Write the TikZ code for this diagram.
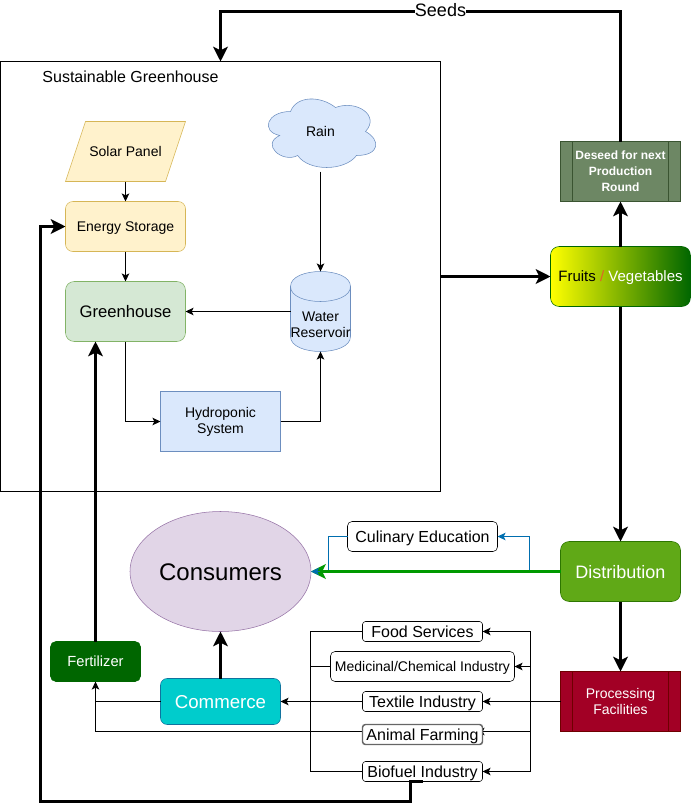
\documentclass[tikz,border=0pt]{standalone}
\usepackage{fontspec}
\setmainfont{Liberation Sans}
\usetikzlibrary{arrows.meta,backgrounds,shapes.geometric}
\definecolor{solarF}{HTML}{FFF2CC}\definecolor{solarD}{HTML}{D6B656}
\definecolor{greenF}{HTML}{D5E8D4}\definecolor{greenD}{HTML}{82B366}
\definecolor{blueF}{HTML}{DAE8FC}\definecolor{blueD}{HTML}{6C8EBF}
\definecolor{purpF}{HTML}{E1D5E7}\definecolor{purpD}{HTML}{9673A6}
\definecolor{distF}{HTML}{60A917}\definecolor{distD}{HTML}{2D7600}
\definecolor{procF}{HTML}{A20025}\definecolor{procD}{HTML}{6F0000}
\definecolor{seedF}{HTML}{6D8764}\definecolor{seedD}{HTML}{3A5431}
\definecolor{darkG}{HTML}{006600}
\definecolor{commF}{HTML}{00CCCC}\definecolor{commD}{HTML}{10739E}
\definecolor{eduB}{HTML}{006EAF}\definecolor{greenL}{HTML}{009900}
\definecolor{slash}{HTML}{E0602A}
\newcommand\ftw{\fontsize{9}{11.25}\selectfont}
\newcommand\ffo{\fontsize{10.5}{13}\selectfont}
\newcommand\fsi{\fontsize{12}{14}\selectfont}
\newcommand\fei{\fontsize{13.5}{16}\selectfont}
\newcommand\lft{\rule[-.2em]{0pt}{1.14em}}
\tikzset{
  px/.style 2 args={minimum width=#1*0.75pt,minimum height=#2*0.75pt,inner sep=0pt,outer sep=0pt},
  line width=0.75pt,
  thin arrow/.style={-{Stealth[length=6pt,width=5.6pt,inset=1.4pt]},line width=0.75pt},
  thick arrow/.style={-{Stealth[length=11pt,width=11pt,inset=2.6pt]},line width=2.25pt},
  plain/.style={line width=0.75pt},
  round3/.style={draw=black,fill=white,rounded corners=2.2pt},
  round5/.style={draw=black,fill=white,rounded corners=3.4pt},
}
\begin{document}
\begin{tikzpicture}[x=0.75pt,y=-0.75pt,every node/.style={align=center,text=black}]
\useasboundingbox (-0.5,-0.5) rectangle (690.5,810.5);
% nodes
\node[px={440}{430},draw=black] (outer) at (220,276) {};
\node[anchor=center] (title) at (130,76) {\fsi Sustainable Greenhouse};
\fill[solarF,draw=solarD] (85,121) -- (185,121) -- (165,181) -- (65,181) -- cycle;
\node[px={120}{60}] (solar) at (125,151) {\ffo\lft Solar Panel};
\node[px={120}{50},draw=solarD,fill=solarF,rounded corners=5.5pt] (energy) at (125,226) {\ffo\lft Energy Storage};
\node[px={120}{60},draw=greenD,fill=greenF,rounded corners=6.5pt] (house) at (125,311) {\fontsize{12.5}{15}\selectfont\lft Greenhouse};
\node[px={120}{60},draw=blueD,fill=blueF] (hydro) at (220,421) {\ffo Hydroponic\\\ffo System};
\path[fill=blueF,draw=blueD] (290,111) .. controls (266,111) and (260,131) .. (279.2,135)
  .. controls (260,143.8) and (281.6,163) .. (297.2,155)
  .. controls (308,171) and (344,171) .. (356,155)
  .. controls (380,155) and (380,139) .. (365,131)
  .. controls (380,115) and (356,99) .. (335,107)
  .. controls (320,95) and (296,95) .. (290,111) -- cycle;
\node[px={120}{80}] (rain) at (320,131) {\ffo\lft Rain};
\path[fill=blueF,draw=blueD] (290,286) .. controls (290,266) and (350,266) .. (350,286)
  -- (350,336) .. controls (350,356) and (290,356) .. (290,336) -- cycle;
\path[draw=blueD] (290,286) .. controls (290,306) and (350,306) .. (350,286);
\node[px={60}{80}] (res) at (320,311) {};
\node (restext) at (320,324) {\ffo Water\\\ffo Reservoir};
\node[px={181}{120},ellipse,draw=purpD,fill=purpF] (cons) at (220,571) {\fontsize{18}{22}\selectfont\lft Consumers};
\node[px={150}{30},round5] (edu) at (422,536) {\fsi\lft Culinary Education};
\node[px={120}{60},draw=distD,fill=distF,rounded corners=6.5pt,text=white] (dist) at (620,571) {\fei\lft Distribution};
\node[px={120}{60},draw=procD,fill=procF,text=white] (proc) at (620,701) {\ffo Processing\\\ffo Facilities};
\draw[procD] (572,671) -- (572,731) (668,671) -- (668,731);
\node[px={120}{60},draw=seedD,fill=seedF,text=white] (seed) at (620,171) {\ftw\bfseries Deseed for next\\\ftw\bfseries Production\\\ftw\bfseries Round};
\draw[seedD] (572,141) -- (572,201) (668,141) -- (668,201);
\node[px={140}{60},draw=darkG,left color=yellow,right color=darkG,rounded corners=6.5pt] (fruits) at (620,276)
  {\fontsize{11.25}{13}\selectfont\lft Fruits \textcolor{slash}{/} \textcolor{white}{Vegetables}};
\node[px={90}{40},draw=darkG,fill=darkG,text=white,rounded corners=4pt] (fert) at (95,661) {\fontsize{11}{13}\selectfont\lft Fertilizer};
\node[px={120}{46},draw=commD,fill=commF,text=white,rounded corners=5pt] (comm) at (220,701) {\fontsize{14}{16}\selectfont\lft Commerce};
\node[px={120}{20},round3] (food) at (422,631) {\fsi\lft Food Services};
\node[px={184}{30},round5] (med) at (422,666) {\ffo\lft Medicinal/Chemical Industry};
\node[px={120}{20},round3] (text) at (422,701) {\fsi\lft Textile Industry};
\node[px={120}{20},round3,draw=black!60,line width=1.1pt] (animal) at (422,734) {\fsi\lft Animal Farming};
\node[px={120}{20},round3] (bio) at (422,771) {\fsi\lft Biofuel Industry};
\coordinate (busR) at (530,701);
\coordinate (busL) at (310,701);
\coordinate (animalL) at (362,731);
\coordinate (animalR) at (476,731);
\coordinate (blueHead) at (319.5,571);
% connectors
\begin{scope}[on background layer]
\draw[thin arrow] (busR |- animalR) -- (animalR);
\draw[plain] (animalL) -- (fert.south |- animalL) -- (fert.south);
\end{scope}
\draw[thick arrow] (seed.north) -- ++(0,-130) coordinate (seedA) -- (seedA -| outer.north) -- (outer.north);
\node[fill=white,inner sep=0pt] (seedslabel) at (440,10) {\fei Seeds};
\draw[thin arrow] (solar.south) -- (energy.north);
\draw[thin arrow] (energy.south) -- (house.north);
\draw[thin arrow] (rain.south) -- (res.north);
\draw[thin arrow] (res.west) -- (house.east);
\draw[thin arrow] (house.south) |- (hydro.west);
\draw[thin arrow] (hydro.east) -| (res.south);
\draw[thick arrow] (outer.east) -- (fruits.west);
\draw[thick arrow] (fruits.north) -- (seed.south);
\draw[thick arrow] (fruits.south) -- (dist.north);
\draw[thick arrow] (dist.south) -- (proc.north);
\draw[thin arrow,eduB] (529,571) -- (529,536) -- (edu.east);
\draw[eduB,plain] (edu.west) -- (328,536) -- (328,571);
\draw[thick arrow,greenL] (dist.west) -- (cons.east);
\draw[thin arrow,eduB] (blueHead) -- (cons.east);
\draw[thin arrow] (proc.west) -- (text.east);
\draw[thin arrow] (text.west) -- (comm.east);
\draw[plain] (busR |- food.east) -- (busR |- bio.east);
\draw[thin arrow] (busR |- food.east) -- (food.east);
\draw[thin arrow] (busR |- med.east) -- (med.east);
\draw[thin arrow] (busR |- bio.east) -- (bio.east);
\draw[plain] (food.west) -- (busL |- food.west) -- (busL |- bio.west) -- (bio.west);
\draw[plain] (med.west) -- (busL |- med.west);
\draw[thin arrow] (comm.west) -- (fert.south |- comm.west) -- (fert.south);
\draw[thick arrow] (comm.north) -- (comm.north |- cons.south);
\draw[thick arrow] (fert.north) -- (fert.north |- house.south);
\draw[thick arrow] (bio.south) -- ++(-12,0) -- ++(0,20) -- (40,801) -- (40,226) -- (energy.west);
\end{tikzpicture}
\end{document}
